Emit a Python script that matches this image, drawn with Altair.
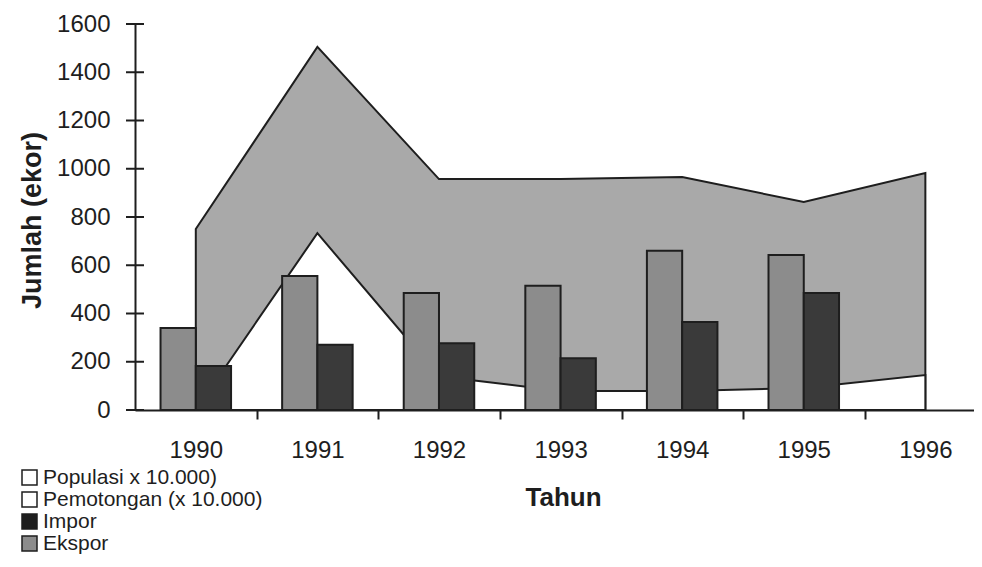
import altair as alt
import pandas as pd

# ---- data ----
years = [1990, 1991, 1992, 1993, 1994, 1995, 1996]
populasi = [340, 555, 485, 515, 660, 643, None]
impor = [182, 270, 277, 215, 365, 485, None]
pemotongan = [0, 733, 140, 79, 79, 91, 145]
ekspor = [750, 1505, 957, 957, 966, 862, 982]
y_ticks = [0, 200, 400, 600, 800, 1000, 1200, 1400, 1600]
legend_labels = ["Populasi x 10.000)", "Pemotongan (x 10.000)", "Impor", "Ekspor"]
legend_fills = ["#ffffff", "#ffffff", "#1e1e1e", "#8c8c8c"]

FONT = "Liberation Sans"
INK = "#1e1e1e"
BAR_W = 0.29

df = pd.DataFrame({
    "year": years,
    "populasi": populasi,
    "impor": impor,
    "pemotongan": pemotongan,
    "ekspor": ekspor,
})

x_scale = alt.Scale(domain=[1989.5, 1996.4], nice=False, zero=False)
y_scale = alt.Scale(domain=[0, 1600], nice=False)

x_axis = alt.Axis(
    values=years, format="d", title="Tahun", grid=False,
    tickOffset=61, labelOffset=-61, tickSize=9, tickColor=INK, tickWidth=2,
    domainColor=INK, domainWidth=2,
    labelFont=FONT, labelFontSize=24, labelColor=INK, labelPadding=19,
    titleFont=FONT, titleFontSize=26, titleFontWeight="bold", titleColor=INK,
    titleX=428, titleY=87, titleBaseline="middle", titleAlign="center",
)
y_axis = alt.Axis(
    values=y_ticks, format="d", title="Jumlah (ekor)", grid=False, ticks=False,
    domainColor=INK, domainWidth=2,
    labelFont=FONT, labelFontSize=24, labelColor=INK, labelPadding=25,
    titleFont=FONT, titleFontSize=27, titleFontWeight="bold", titleColor=INK,
    titleX=-103, titleY=196, titleBaseline="middle", titleAlign="center", titleAngle=270,
)

base = alt.Chart(df)

ekspor_area = base.mark_area(
    fill="#a9a9a9", stroke=INK, strokeWidth=2, strokeJoin="miter"
).encode(
    x=alt.X("year:Q", scale=x_scale, axis=x_axis),
    y=alt.Y("ekspor:Q", scale=y_scale, axis=y_axis),
)

pem_area = base.mark_area(
    fill="#ffffff", stroke=INK, strokeWidth=2, strokeJoin="miter"
).encode(
    x="year:Q",
    y="pemotongan:Q",
)

pop_bars = base.transform_filter("isValid(datum.populasi)").transform_calculate(
    x0=f"datum.year - {BAR_W}"
).mark_rect(fill="#8c8c8c", stroke=INK, strokeWidth=2).encode(
    x="x0:Q", x2="year", y="populasi:Q", y2=alt.datum(0)
)

impor_bars = base.transform_filter("isValid(datum.impor)").transform_calculate(
    x1=f"datum.year + {BAR_W}"
).mark_rect(fill="#3a3a3a", stroke=INK, strokeWidth=2).encode(
    x="year:Q", x2="x1", y="impor:Q", y2=alt.datum(0)
)

yticks = alt.Chart(pd.DataFrame({"v": y_ticks})).mark_rule(
    color=INK, strokeWidth=2
).encode(y="v:Q", x=alt.value(-9), x2=alt.value(9))

legend_layer = alt.Chart(pd.DataFrame({"label": legend_labels})).mark_square(
    filled=True, opacity=0, stroke=INK, strokeWidth=1.5
).encode(
    color=alt.Color(
        "label:N",
        scale=alt.Scale(domain=legend_labels, range=legend_fills),
        sort=legend_labels,
        legend=alt.Legend(
            orient="none", legendX=-116, legendY=443, title=None,
            labelFont=FONT, labelFontSize=21, labelColor=INK, labelOffset=3,
            labelLimit=600,
            symbolType="square", symbolSize=225, symbolStrokeColor=INK,
            symbolStrokeWidth=1.5, symbolOpacity=1, rowPadding=0,
        ),
    )
)

chart = alt.layer(
    legend_layer, ekspor_area, pem_area, pop_bars, impor_bars, yticks
).properties(
    width=839, height=386,
    autosize=alt.AutoSizeParams(type="none"),
    padding={"left": 127, "top": 16, "right": 0, "bottom": 148},
    background="white",
).configure_view(stroke=None)

chart.save("out.html", embed_options={"renderer": "svg", "actions": False})
